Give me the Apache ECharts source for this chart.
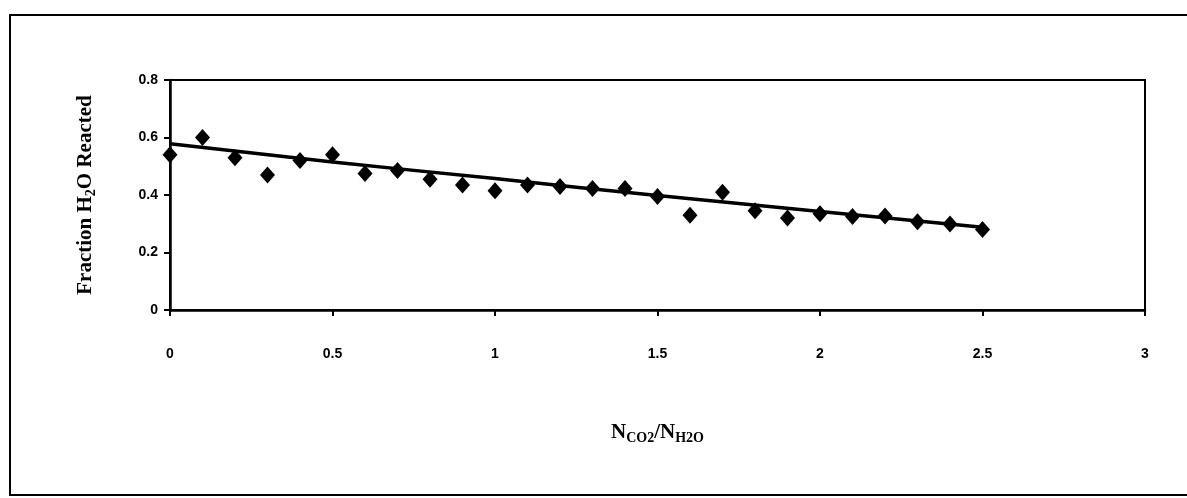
<!DOCTYPE html>
<html>
<head>
<meta charset="utf-8">
<script src="https://cdn.jsdelivr.net/npm/echarts@6/dist/echarts.min.js"></script>
<style>
  html, body { margin: 0; padding: 0; background: #fff; }
  #chart { width: 1187px; height: 498px; }
</style>
</head>
<body>
<div id="chart"></div>
<script>
// measured points: ratio vs fraction of H2O reacted
const ratioX = [0, 0.1, 0.2, 0.3, 0.4, 0.5, 0.6, 0.7, 0.8, 0.9, 1.0, 1.1, 1.2,
                1.3, 1.4, 1.5, 1.6, 1.7, 1.8, 1.9, 2.0, 2.1, 2.2, 2.3, 2.4, 2.5];
const fractionY = [0.54, 0.60, 0.53, 0.47, 0.52, 0.54, 0.475, 0.485, 0.455, 0.435, 0.415, 0.435, 0.43,
                   0.423, 0.423, 0.395, 0.33, 0.41, 0.345, 0.32, 0.335, 0.325, 0.327, 0.307, 0.299, 0.28];

// trend line
const fitX = [0, 0.5, 1.0, 1.5, 2.0, 2.5];
const fitY = [0.578, 0.515, 0.457, 0.398, 0.343, 0.288];

const xTicks = { min: 0, max: 3, interval: 0.5 };
const yTicks = { min: 0, max: 0.8, interval: 0.2 };

const chart = echarts.init(document.getElementById('chart'));

const tickFont = {
  color: '#000',
  fontFamily: 'Liberation Sans, Arial, sans-serif',
  fontWeight: 'bold',
  fontSize: 14
};

const titleFont = (size, subSize) => ({
  color: '#000',
  fontFamily: 'Liberation Serif, Times New Roman, serif',
  fontWeight: 'bold',
  fontSize: size,
  rich: {
    sub: {
      fontFamily: 'Liberation Serif, Times New Roman, serif',
      fontWeight: 'bold',
      fontSize: subSize,
      color: '#000',
      verticalAlign: 'bottom',
      padding: [11, 0, 0, 0]
    }
  }
});

const option = {
  animation: false,
  backgroundColor: '#fff',
  graphic: [
    {
      type: 'rect',
      shape: { x: 10, y: 15, width: 1195, height: 480 },
      style: { fill: 'none', stroke: '#000', lineWidth: 2 },
      silent: true
    }
  ],
  grid: {
    left: 170,
    right: 42,
    top: 80,
    bottom: 188,
    show: true,
    borderColor: '#000',
    borderWidth: 2,
    backgroundColor: 'transparent'
  },
  xAxis: {
    type: 'value',
    min: xTicks.min,
    max: xTicks.max,
    interval: xTicks.interval,
    splitLine: { show: false },
    axisLine: { lineStyle: { color: '#000', width: 2.5 } },
    axisTick: { length: 6, lineStyle: { color: '#000', width: 2 } },
    axisLabel: Object.assign({ margin: 37 }, tickFont),
    name: 'N{sub|CO2}/N{sub|H2O}',
    nameLocation: 'middle',
    nameGap: 110,
    nameTextStyle: titleFont(21, 14)
  },
  yAxis: {
    type: 'value',
    min: yTicks.min,
    max: yTicks.max,
    interval: yTicks.interval,
    splitLine: { show: false },
    axisLine: { show: true, lineStyle: { color: '#000', width: 2.5 } },
    axisTick: { show: true, length: 6, lineStyle: { color: '#000', width: 2 } },
    axisLabel: Object.assign({ margin: 12 }, tickFont),
    name: 'Fraction H{sub|2}O Reacted',
    nameLocation: 'middle',
    nameGap: 72,
    nameRotate: 90,
    nameTextStyle: titleFont(21, 14)
  },
  series: [
    {
      name: 'trend',
      type: 'line',
      data: fitX.map((x, i) => [x, fitY[i]]),
      smooth: true,
      showSymbol: false,
      lineStyle: { color: '#000', width: 3.5 },
      z: 2
    },
    {
      name: 'data',
      type: 'scatter',
      data: ratioX.map((x, i) => [x, fractionY[i]]),
      symbol: 'diamond',
      symbolSize: [15, 17],
      itemStyle: { color: '#000', opacity: 1 },
      z: 3
    }
  ]
};

chart.setOption(option);
</script>
</body>
</html>
